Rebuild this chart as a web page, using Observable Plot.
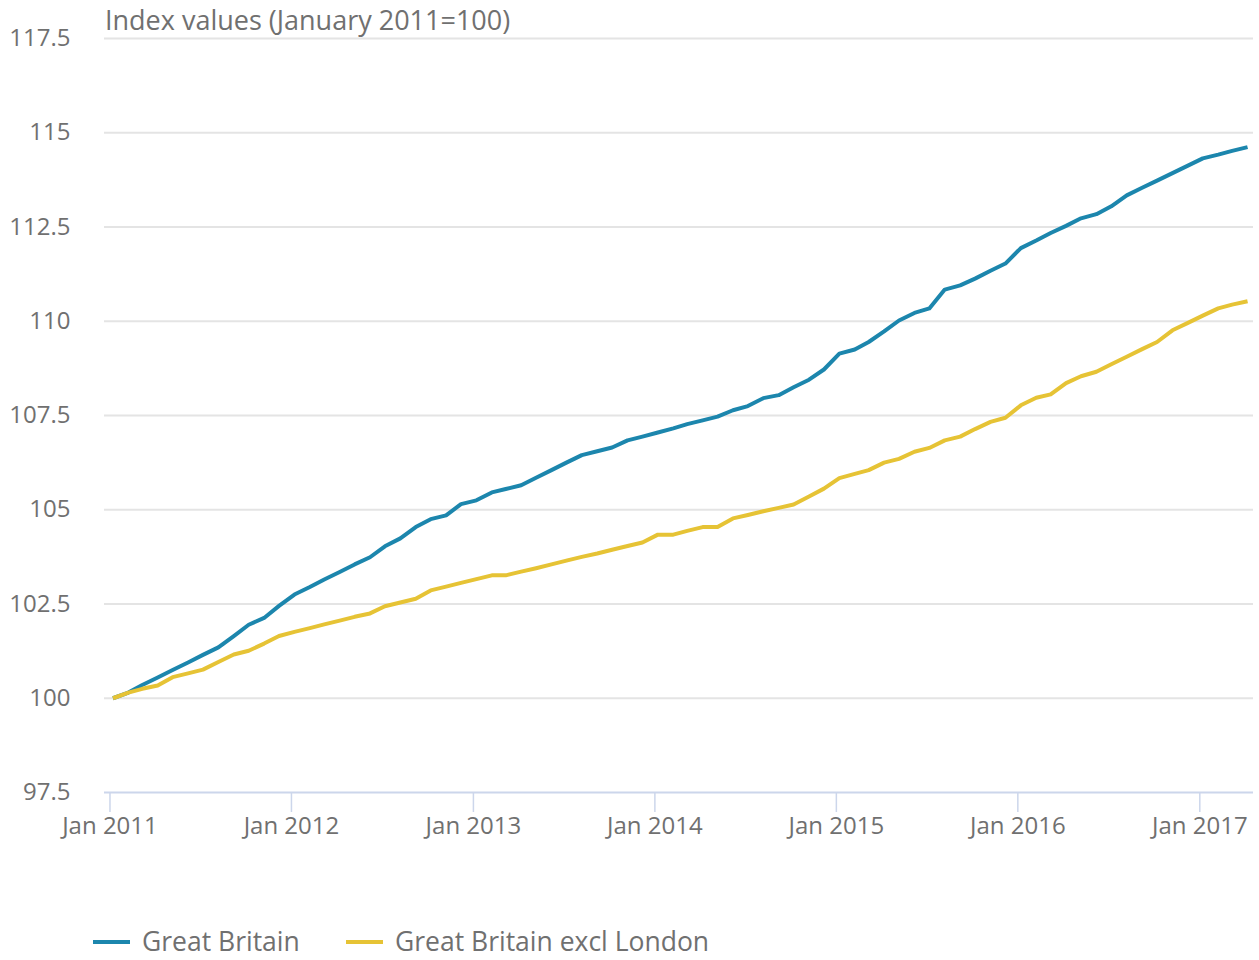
<!DOCTYPE html>
<html>
<head>
<meta charset="utf-8">
<script src="https://cdn.jsdelivr.net/npm/d3@7"></script>
<script src="https://cdn.jsdelivr.net/npm/@observablehq/plot@0.6"></script>
<style>
  body { margin: 0; background: #fff; font-family: "Open Sans", sans-serif; color: #707070; }
  #wrap { position: relative; width: 1259px; height: 960px; overflow: hidden; }
  #title { position: absolute; left: 105px; top: 4px; font-size: 27px; line-height: 32px; color: #707070; white-space: nowrap; }
  #chart { position: absolute; left: 0; top: 0; }
  #legend { position: absolute; left: 0; top: 927px; width: 1259px; height: 28px; font-size: 26.5px; line-height: 28px; color: #707070; }
  .item { position: absolute; top: 0; height: 28px; white-space: nowrap; }
  .sw { position: absolute; top: 13px; height: 4px; width: 37px; }
  .lab { position: absolute; top: 0; height: 28px; }
</style>
</head>
<body>
<div id="wrap">
  <div id="chart"></div>
  <div id="title">Index values (January 2011=100)</div>
  <div id="legend"></div>
</div>
<script>
// ---- Data ----
const seriesNames = ["Great Britain", "Great Britain excl London"];
const seriesColors = ["#1c86ad", "#e6c335"];
const firstMonth = "2011-01-01";
const lastMonth = "2017-04-01";

const greatBritain = [
  100.0, 100.15, 100.35, 100.55, 100.75, 100.95, 101.15, 101.35, 101.65, 101.95, 102.13, 102.45,
  102.75, 102.95, 103.15, 103.35, 103.55, 103.74, 104.03, 104.24, 104.54, 104.75, 104.85, 105.15,
  105.25, 105.46, 105.55, 105.65, 105.85, 106.05, 106.25, 106.45, 106.55, 106.65, 106.84, 106.94,
  107.05, 107.16, 107.27, 107.37, 107.47, 107.64, 107.75, 107.96, 108.04, 108.25, 108.45, 108.72,
  109.14, 109.25, 109.45, 109.73, 110.02, 110.22, 110.34, 110.84, 110.95, 111.13, 111.34, 111.53,
  111.94, 112.14, 112.34, 112.53, 112.73, 112.84, 113.05, 113.34, 113.54, 113.73, 113.93, 114.12,
  114.32, 114.42, 114.52, 114.62
];
const gbExclLondon = [
  100.0, 100.15, 100.25, 100.34, 100.56, 100.66, 100.76, 100.96, 101.16, 101.26, 101.45, 101.65,
  101.76, 101.86, 101.96, 102.06, 102.16, 102.25, 102.44, 102.54, 102.64, 102.86, 102.96, 103.06,
  103.16, 103.26, 103.26, 103.36, 103.45, 103.55, 103.65, 103.75, 103.84, 103.94, 104.04, 104.13,
  104.34, 104.34, 104.44, 104.54, 104.54, 104.77, 104.86, 104.96, 105.05, 105.14, 105.35, 105.56,
  105.84, 105.95, 106.05, 106.25, 106.35, 106.54, 106.64, 106.84, 106.94, 107.14, 107.33, 107.44,
  107.77, 107.97, 108.06, 108.36, 108.54, 108.66, 108.86, 109.06, 109.26, 109.45, 109.76, 109.95,
  110.15, 110.34, 110.44, 110.53
];
const yTicks = [97.5, 100, 102.5, 105, 107.5, 110, 112.5, 115, 117.5];
const xTickYears = ["2011", "2012", "2013", "2014", "2015", "2016", "2017"];

// ---- Build table ----
const months = d3.utcMonth.range(new Date(firstMonth), d3.utcMonth.offset(new Date(lastMonth), 1));
const rows = [];
[greatBritain, gbExclLondon].forEach((vals, i) => {
  vals.forEach((v, j) => rows.push({date: months[j], value: v, series: seriesNames[i]}));
});
const xTicks = xTickYears.map(y => new Date(`${y}-01-01`));

const chart = Plot.plot({
  width: 1259,
  height: 870,
  marginLeft: 104,
  marginRight: 6,
  marginTop: 38,
  marginBottom: 78,
  style: { fontFamily: "'Open Sans', sans-serif", fontSize: "24px", color: "#707070", background: "white", overflow: "visible" },
  x: { type: "utc", domain: [new Date("2010-12-21"), new Date("2017-04-19")] },
  y: { domain: [97.5, 117.5] },
  color: { domain: seriesNames, range: seriesColors },
  marks: [
    Plot.ruleY(yTicks.slice(1), { stroke: "#e4e4e4", strokeWidth: 2 }),
    Plot.ruleY([97.5], { stroke: "#ccd6eb", strokeWidth: 2 }),
    Plot.axisY({ ticks: yTicks, tickSize: 0, tickPadding: 34, tickFormat: d => String(d), label: null, fill: "#707070" }),
    Plot.axisX({ ticks: xTicks, tickSize: 20, tickPadding: 4, stroke: "#ccd6eb", strokeWidth: 1.5, tickFormat: d3.utcFormat("%b %Y"), label: null, fill: "#707070" }),
    Plot.line(rows, { x: "date", y: "value", stroke: "series", z: "series", strokeWidth: 4, strokeLinejoin: "round", strokeLinecap: "butt", dx: 3 })
  ]
});
document.getElementById("chart").appendChild(chart);

// ---- Legend ----
const legend = document.getElementById("legend");
const legendX = [93, 346];
seriesNames.forEach((name, i) => {
  const item = document.createElement("div");
  item.className = "item";
  item.style.left = legendX[i] + "px";
  const sw = document.createElement("div");
  sw.className = "sw";
  sw.style.left = "0px";
  sw.style.background = seriesColors[i];
  const lab = document.createElement("div");
  lab.className = "lab";
  lab.style.left = "49px";
  lab.textContent = name;
  item.appendChild(sw);
  item.appendChild(lab);
  legend.appendChild(item);
});
</script>
</body>
</html>
